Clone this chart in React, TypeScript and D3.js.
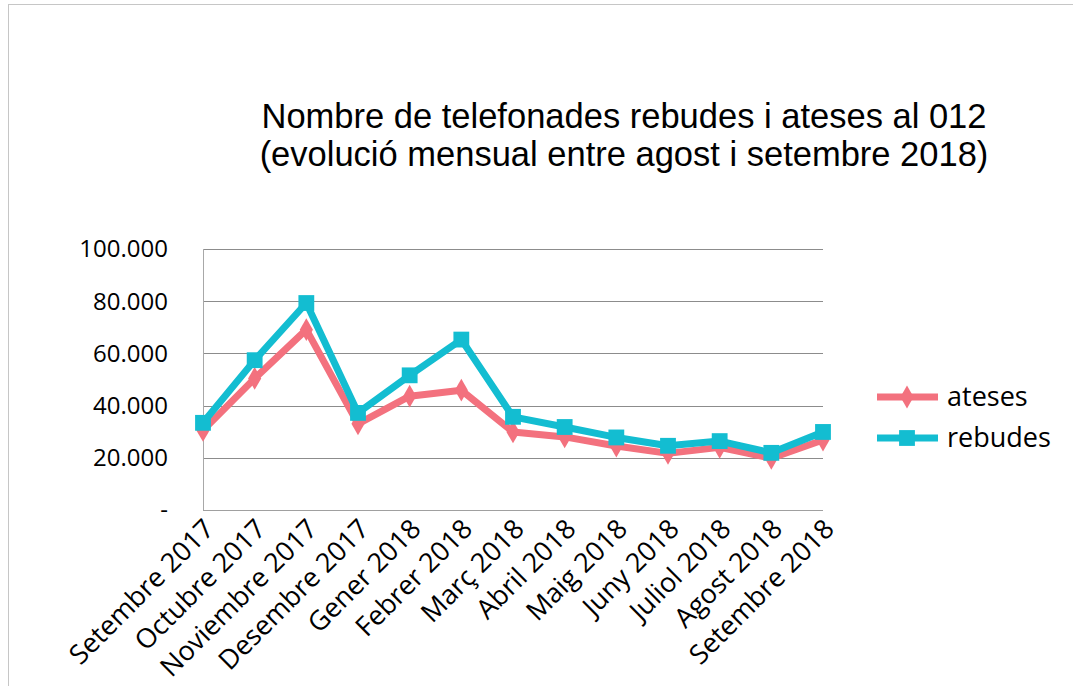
import React, { useEffect, useRef } from 'react';
import * as d3 from 'd3';

const months = [
  'Setembre 2017', 'Octubre 2017', 'Noviembre 2017', 'Desembre 2017', 'Gener 2018',
  'Febrer 2018', 'Març 2018', 'Abril 2018', 'Maig 2018', 'Juny 2018', 'Juliol 2018',
  'Agost 2018', 'Setembre 2018',
];
const ateses = [30500, 50400, 69100, 33000, 43600, 45900, 29900, 28000, 24500, 21700, 24000, 19800, 26800];
const rebudes = [33400, 57400, 79300, 37200, 51600, 65300, 35700, 31800, 27800, 24600, 26400, 21900, 29900];
const yTicks = [0, 20000, 40000, 60000, 80000, 100000];
const titleLines = [
  'Nombre de telefonades rebudes i ateses al 012',
  '(evolució mensual entre agost i setembre 2018)',
];

const W = 1073;
const H = 686;
const AXIS_FONT = '"Open Sans", sans-serif';

const App: React.FC = () => {
  const ref = useRef<SVGSVGElement>(null);

  useEffect(() => {
    const svg = d3.select(ref.current);
    svg.html('');

    const left = 203, right = 823, top = 249, bottom = 510;
    const x = d3.scalePoint<string>().domain(months).range([left, right]);
    const y = d3.scaleLinear().domain([0, 100000]).range([bottom, top]);
    const fmt = d3.formatLocale({ decimal: ',', thousands: '.', grouping: [3], currency: ['', '€'] }).format(',');

    // outer frame
    svg.append('rect')
      .attr('x', 8.5).attr('y', 4.5)
      .attr('width', W + 20).attr('height', H + 20)
      .attr('fill', 'none').attr('stroke', '#c6c6c6');

    // title
    const title = svg.append('text')
      .attr('text-anchor', 'middle')
      .style('font-family', '"Liberation Sans", Arial, sans-serif')
      .style('font-size', '34.5px')
      .attr('fill', '#000');
    titleLines.forEach((t, i) => {
      title.append('tspan').attr('x', 624).attr('y', 128 + i * 38).text(t);
    });

    // gridlines
    svg.append('g').selectAll('line')
      .data(yTicks)
      .enter()
      .append('line')
      .attr('x1', left).attr('x2', right)
      .attr('y1', d => Math.round(y(d)) + 0.5).attr('y2', d => Math.round(y(d)) + 0.5)
      .attr('stroke', d => (d === 0 ? '#a0a0a0' : '#8c8c8c'))
      .attr('stroke-width', 1);

    svg.append('line')
      .attr('x1', left + 0.5).attr('x2', left + 0.5)
      .attr('y1', top).attr('y2', bottom)
      .attr('stroke', '#a8a8a8');

    // y labels
    svg.append('g').selectAll('text')
      .data(yTicks)
      .enter()
      .append('text')
      .attr('x', 168)
      .attr('y', d => y(d))
      .attr('dy', '0.35em')
      .attr('text-anchor', 'end')
      .style('font-family', AXIS_FONT)
      .style('font-size', '24px')
      .text(d => (d === 0 ? '-' : fmt(d)));

    // x labels
    svg.append('g').selectAll('text')
      .data(months)
      .enter()
      .append('text')
      .attr('transform', d => `translate(${x(d)! + 6}, ${bottom + 14}) rotate(-45)`)
      .attr('text-anchor', 'end')
      .attr('dy', '0.35em')
      .style('font-family', AXIS_FONT)
      .style('font-size', '27px')
      .text(d => d);

    const series = [
      { name: 'ateses', values: ateses, color: '#f3717e', marker: d3.symbolDiamond, size: 150 },
      { name: 'rebudes', values: rebudes, color: '#13bdd1', marker: d3.symbolSquare, size: 250 },
    ];

    const line = d3.line<number>()
      .x((_, i) => x(months[i])!)
      .y(d => y(d));

    series.forEach(s => {
      svg.append('path')
        .datum(s.values)
        .attr('d', line)
        .attr('fill', 'none')
        .attr('stroke', s.color)
        .attr('stroke-width', 7)
        .attr('stroke-linejoin', 'round');

      svg.append('g').selectAll('path')
        .data(s.values)
        .enter()
        .append('path')
        .attr('d', d3.symbol().type(s.marker).size(s.size)())
        .attr('transform', (d, i) => `translate(${x(months[i])}, ${y(d)})`)
        .attr('fill', s.color);
    });

    // legend
    const legend = svg.append('g');
    series.forEach((s, i) => {
      const ly = 397 + i * 41;
      legend.append('line')
        .attr('x1', 877).attr('x2', 938)
        .attr('y1', ly).attr('y2', ly)
        .attr('stroke', s.color).attr('stroke-width', 7);
      legend.append('path')
        .attr('d', d3.symbol().type(s.marker).size(s.size)())
        .attr('transform', `translate(907, ${ly})`)
        .attr('fill', s.color);
      legend.append('text')
        .attr('x', 947).attr('y', ly)
        .attr('dy', '0.35em')
        .style('font-family', AXIS_FONT)
        .style('font-size', '27px')
        .text(s.name);
    });
  }, []);

  return (
    <svg
      ref={ref}
      width={W}
      height={H}
      style={{ position: 'absolute', left: 0, top: 0, background: '#fff' }}
    />
  );
};

export default App;
